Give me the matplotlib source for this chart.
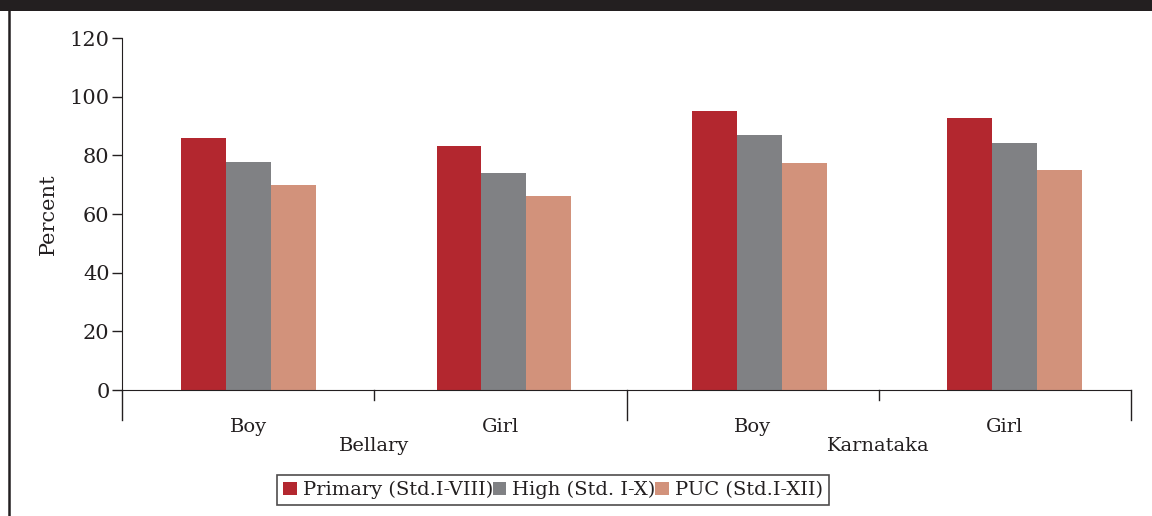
import matplotlib

matplotlib.use("Agg")
import matplotlib.pyplot as plt
from matplotlib.patches import Rectangle
from matplotlib.lines import Line2D
import numpy as np

plt.rcParams["font.family"] = ["DejaVu Serif"]

# data
categories = ["Boy", "Girl", "Boy", "Girl"]
groups = ["Bellary", "Karnataka"]
series = ["Primary (Std.I-VIII)", "High (Std. I-X)", "PUC (Std.I-XII)"]
primary = [86.0, 83.2, 95.1, 92.7]
high = [77.8, 74.0, 86.9, 84.2]
puc = [70.0, 66.1, 77.4, 75.0]
colors = ["#b3272f", "#808184", "#d2927b"]

fig = plt.figure(figsize=(11.52, 5.16), dpi=100)
ax = fig.add_axes([122 / 1152, 1 - 390 / 516, (1131 - 122) / 1152, (390 - 38) / 516])

x = np.arange(len(categories))
# bar clusters in the original sit on a slightly wider pitch than the category slots
centres = x * 1.012 + 0.002
w = 0.178
for i, (vals, col) in enumerate(zip([primary, high, puc], colors)):
    ax.bar(centres + (i - 1) * w, vals, width=w, color=col, label=series[i])

ax.set_xlim(-0.5, len(categories) - 0.5)
ax.set_ylim(0, 120)
ax.set_yticks(range(0, 121, 20))
ax.tick_params(axis="y", labelsize=15, length=7, width=1, colors="#231f20", pad=2)
ax.set_xticks([])
for s in ["top", "right"]:
    ax.spines[s].set_visible(False)
ax.spines["left"].set_color("#231f20")
ax.spines["bottom"].set_color("#231f20")
ax.spines["left"].set_bounds(0, 120)
ax.set_ylabel("Percent", fontsize=15, color="#231f20", labelpad=8)

# category separators below the axis
trans = ax.get_xaxis_transform()
for b in np.arange(-0.5, len(categories), 1.0):
    long_tick = int(b + 0.5) % 2 == 0
    depth = -30 / 352 if long_tick else -10 / 352
    ax.add_line(Line2D([b, b], [0, depth], transform=trans, color="#231f20",
                       lw=1, clip_on=False))
for xi, c in zip(x, categories):
    ax.text(xi, -37 / 352, c, transform=trans, ha="center", va="center",
            fontsize=14, color="#231f20")
for gi, g in enumerate(groups):
    ax.text(2 * gi + 0.5, -56 / 352, g, transform=trans, ha="center", va="center",
            fontsize=14, color="#231f20")

leg = fig.legend(loc="center", bbox_to_anchor=(553 / 1152, 1 - 490 / 516), ncol=3,
                 fontsize=14, frameon=True, fancybox=False, handlelength=0.7,
                 handleheight=0.7, handletextpad=0.3, columnspacing=0.0,
                 borderpad=0.3, borderaxespad=0)
leg.get_frame().set_edgecolor("#231f20")
leg.get_frame().set_linewidth(1.2)
for t in leg.get_texts():
    t.set_color("#231f20")

# page decorations: dark banner on top and frame line on the left
fig.add_artist(Rectangle((0, 1 - 11 / 516), 1, 11 / 516, transform=fig.transFigure,
                         color="#231f20", lw=0))
fig.add_artist(Line2D([9 / 1152, 9 / 1152], [0, 1 - 11 / 516], transform=fig.transFigure,
                      color="#231f20", lw=1.8))

fig.savefig("out.png", dpi=100)
